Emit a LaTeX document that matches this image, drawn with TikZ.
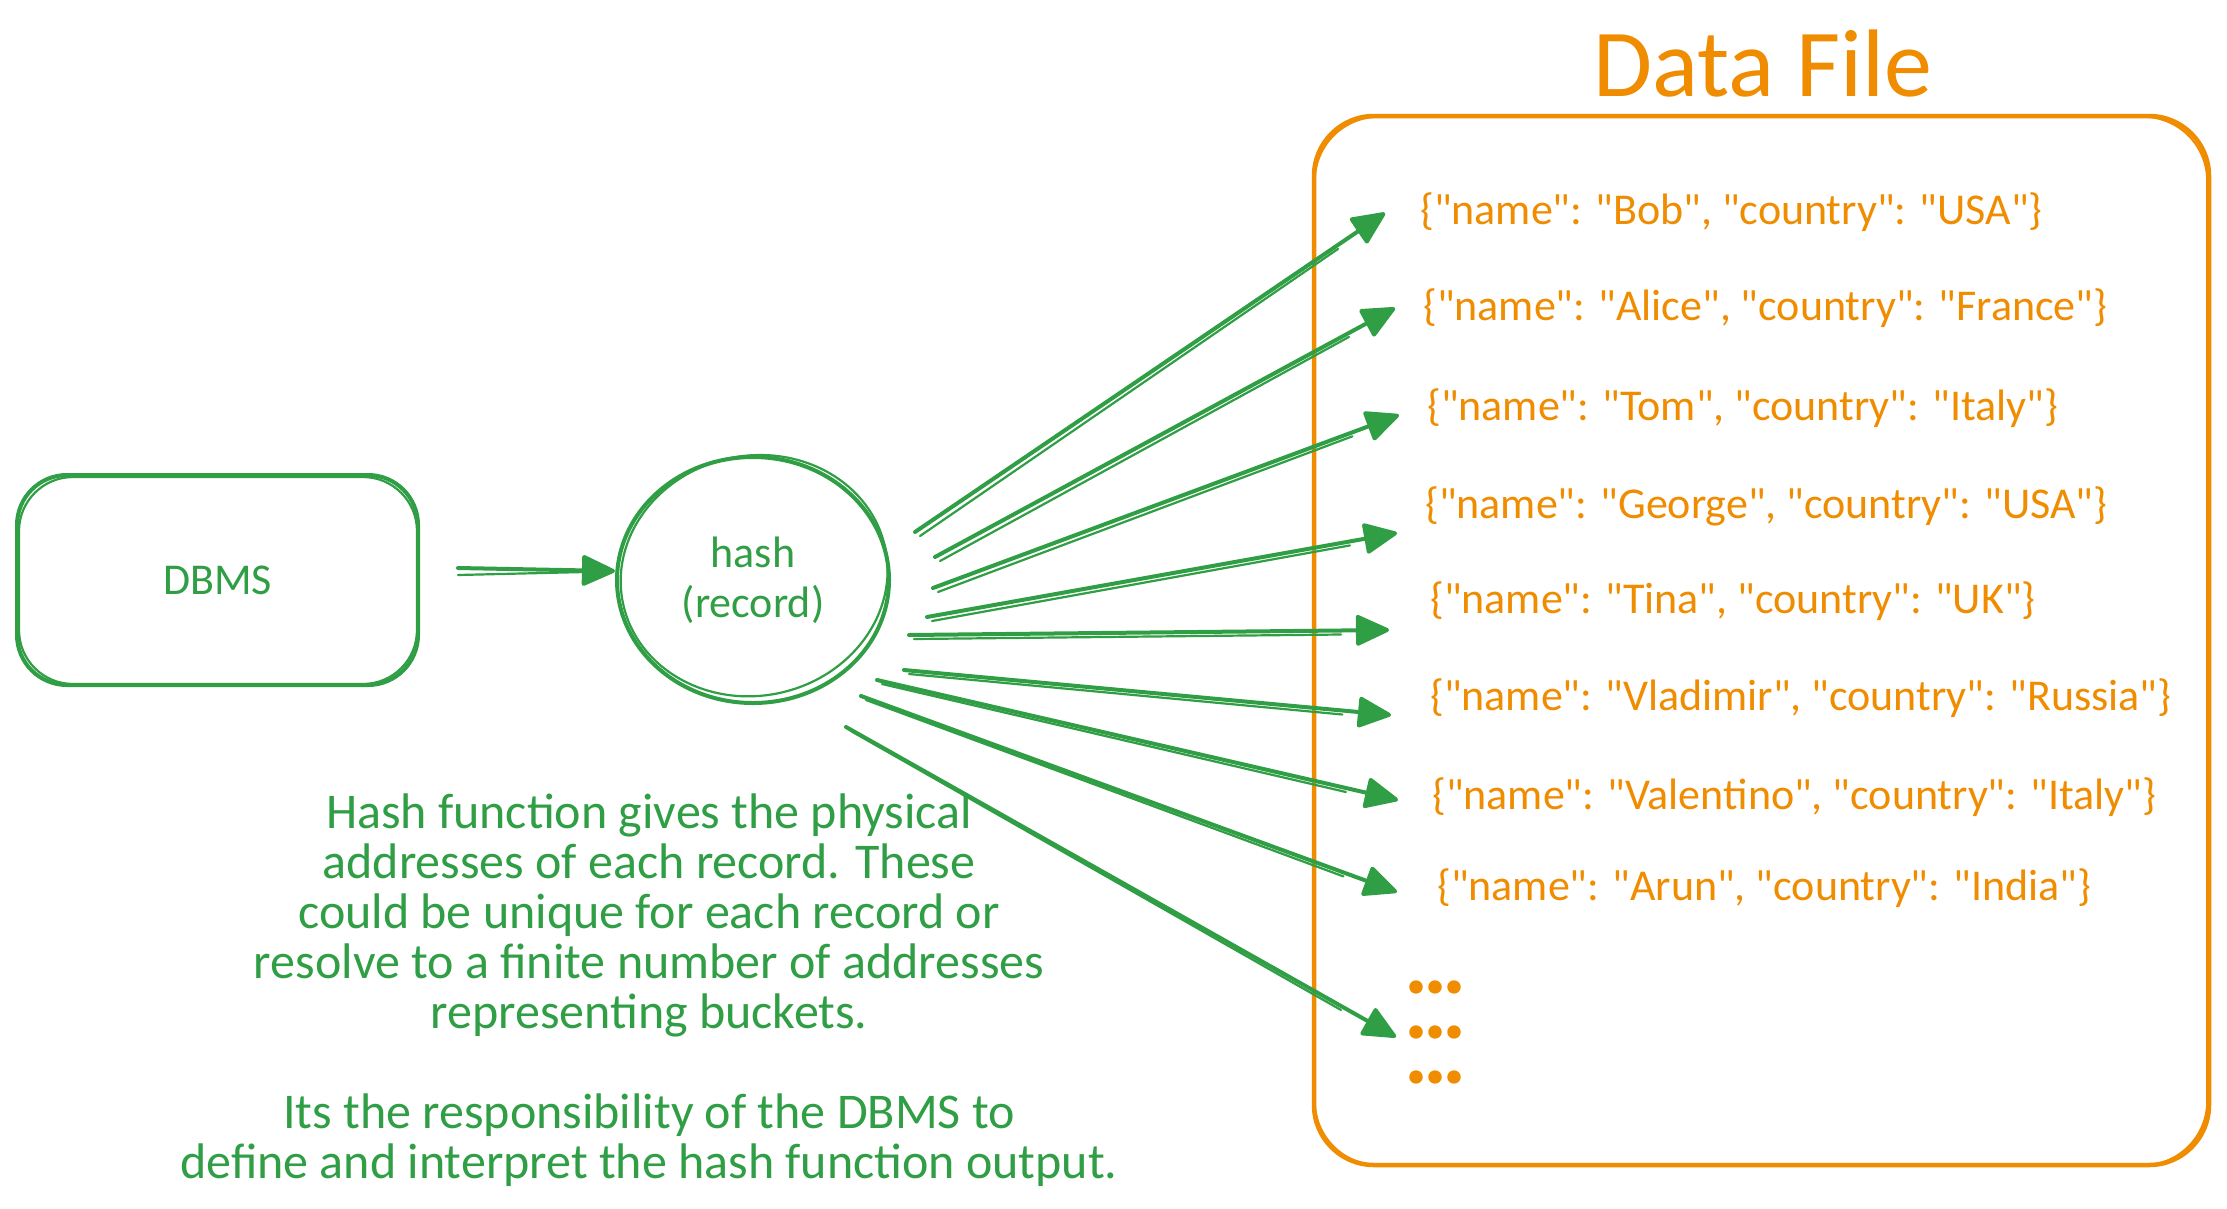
\documentclass[tikz,border=0pt]{standalone}
\usepackage{fontspec}
\setmainfont{Carlito}[Ligatures=TeXOff]
\newfontfamily\dotfont{Carlito}[Ligatures=TeXOff,LetterSpace=-5.5]
\usetikzlibrary{arrows.meta,shapes.geometric,calc}
\definecolor{exgreen}{HTML}{2F9E44}
\definecolor{exorange}{HTML}{F08C00}
\begin{document}
\begin{tikzpicture}[x=1pt,y=-1pt,
  gline/.style={draw=exgreen, line width=4pt, line cap=round, line join=round},
  gthin/.style={draw=exgreen, line width=2.2pt, line cap=round, line join=round},
  oline/.style={draw=exorange, line width=4.5pt, line cap=round, line join=round},
  othin/.style={draw=exorange, line width=2.2pt, line cap=round, line join=round},
  garrow/.style={gline, -{Triangle[length=36pt,width=32pt,round]}},
  rec/.style={anchor=west, text=exorange, font=\fontsize{44}{52}\selectfont, inner sep=0pt},
  gtext/.style={text=exgreen, font=\fontsize{44}{50}\selectfont, inner sep=0pt},
]
\useasboundingbox (0,0) rectangle (2227,1208);
\fill[white] (0,0) rectangle (2227,1208);

% DBMS box
\node[gline, gtext, rounded corners=50pt, minimum width=401pt, minimum height=210pt] (dbms) at (217.5,580) {DBMS};
\draw[gthin, rounded corners=54pt] ([shift={(4,4)}]dbms.north west) rectangle ([shift={(-3,-3)}]dbms.south east);

% hash circle
\node[gline, gtext, ellipse, minimum width=272pt, minimum height=246pt, align=center] (hash) at (753,580) {hash\\(record)};
\draw[gthin, rotate around={12:(hash.center)}] ([shift={(2,-4)}]hash.center) ellipse [x radius=134pt, y radius=120pt];

% DBMS -> hash
\draw[garrow] ([shift={(38,-12)}]dbms.east) -- ([shift={(0,-9)}]hash.west);
\draw[gthin] ([shift={(38,-5)}]dbms.east) -- ([shift={(-30,-8)}]hash.west);

% Data file
\node[text=exorange, font=\fontsize{96}{100}\selectfont, inner sep=0pt] (title) at (1763,64) {Data File};
\node[oline, rounded corners=60pt, minimum width=895pt, minimum height=1049pt] (file) at (1761.5,640.5) {};
\draw[othin, rounded corners=64pt] ([shift={(3,3)}]file.north west) rectangle ([shift={(-4,-2)}]file.south east);

% records
\node[rec] (r1) at (1420,212) {\{"name": "Bob", "country": "USA"\}};
\node[rec] (r2) at (1423,308) {\{"name": "Alice", "country": "France"\}};
\node[rec] (r3) at (1427,408) {\{"name": "Tom", "country": "Italy"\}};
\node[rec] (r4) at (1425,506) {\{"name": "George", "country": "USA"\}};
\node[rec] (r5) at (1430,601) {\{"name": "Tina", "country": "UK"\}};
\node[rec] (r6) at (1430,698) {\{"name": "Vladimir", "country": "Russia"\}};
\node[rec] (r7) at (1432,797) {\{"name": "Valentino", "country": "Italy"\}};
\node[rec] (r8) at (1437,888) {\{"name": "Arun", "country": "India"\}};
\node[text=exorange, font=\dotfont\bfseries\fontsize{90}{45}\selectfont, align=left, inner sep=0pt, anchor=north west] (dots) at (1404,981) {...\\...\\...};

% hash -> records
\coordinate (s1) at (915,532); \coordinate (e1) at (1385,213);
\coordinate (s2) at (935,557); \coordinate (e2) at (1395,308);
\coordinate (s3) at (933,588); \coordinate (e3) at (1399,415);
\coordinate (s4) at (927,617); \coordinate (e4) at (1397,533);
\coordinate (s5) at (909,635); \coordinate (e5) at (1389,630);
\coordinate (s6) at (904,670); \coordinate (e6) at (1391,715);
\coordinate (s7) at (877,680); \coordinate (e7) at (1398,800);
\coordinate (s8) at (861,696); \coordinate (e8) at (1397,892);
\coordinate (s9) at (846,727); \coordinate (e9) at (1396,1037);
\foreach \i in {1,...,9}{
  \draw[garrow] (s\i) -- (e\i);
  \draw[gthin] ($(s\i)+(5,4)$) -- ($(s\i)!0.9!(e\i)+(0,4)$);
}

% note
\node[gtext, align=center, font=\fontsize{50}{50}\selectfont] (note) at (649,990) {Hash function gives the physical\\addresses of each record. These\\could be unique for each record or\\resolve to a finite number of addresses\\representing buckets.\\[50pt]Its the responsibility of the DBMS to\\define and interpret the hash function output.};
\end{tikzpicture}
\end{document}
